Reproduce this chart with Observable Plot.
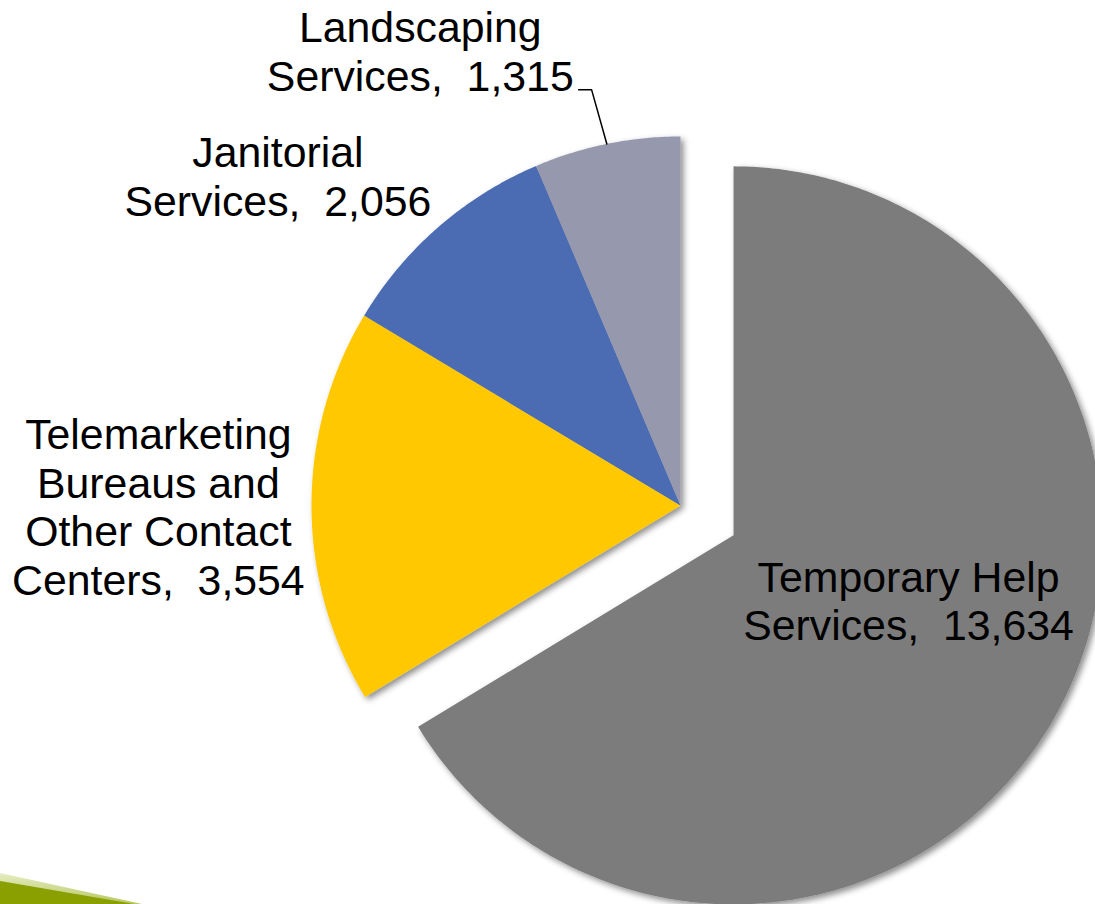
<!DOCTYPE html>
<html>
<head>
<meta charset="utf-8">
<script src="https://cdn.jsdelivr.net/npm/d3@7"></script>
<script src="https://cdn.jsdelivr.net/npm/@observablehq/plot@0.6"></script>
<style>
  html, body { margin: 0; padding: 0; background: #fff; }
  #wrap { position: relative; width: 1095px; height: 904px; overflow: hidden; }
  #deco { position: absolute; left: 0; top: 0; pointer-events: none; }
</style>
</head>
<body>
<div id="wrap">
  <div id="chart"></div>
  <svg id="deco" width="1095" height="904">
    <defs>
      <linearGradient id="gband" x1="0" y1="0" x2="0" y2="1">
        <stop offset="0" stop-color="#e6edc4"/>
        <stop offset="1" stop-color="#b8c860"/>
      </linearGradient>
    </defs>
    <polygon points="0,873 142,904 0,904" fill="url(#gband)"/>
    <polygon points="0,881 134,904 0,904" fill="#8a9f00"/>
  </svg>
</div>
<script>
// ---- data ----
const categoryLines = [
  ["Temporary Help", "Services"],
  ["Telemarketing", "Bureaus and", "Other Contact", "Centers"],
  ["Janitorial", "Services"],
  ["Landscaping", "Services"]
];
const categories = categoryLines.map(l => l.join(" "));
const values = [13634, 3554, 2056, 1315];
const colors = ["#7b7b7b", "#ffc800", "#4b6cb3", "#9698ad"];
const exploded = ["Temporary Help Services"];

// ---- layout (in pie-radius units) ----
const R = 369, CX = 680, CY = 505, W = 1095, H = 904;
const explodeDist = 0.165;
const labelPlacement = {            // polar: angle (deg, clockwise from 12 o'clock), radius
  "Temporary Help Services": {angle: 110.4, r: 0.506},
  "Telemarketing Bureaus and Other Contact Centers": {angle: -90.1, r: 1.415},
  "Janitorial Services": {angle: -50.7, r: 1.41},
  "Landscaping Services": {angle: -29.8, r: 1.419}
};
const leader = {name: "Landscaping Services", start: [-0.276, 1.127], elbow: [-0.241, 1.127]};

const fmt = d3.format(",");
const arcs = d3.pie().sort(null).value(d => d.value)(
  categories.map((name, i) => ({name, value: values[i], lines: categoryLines[i]}))
);

// slice outlines built from pie angles
const polys = [];
const labels = [];
let leaderPts = [];
for (const a of arcs) {
  const name = a.data.name;
  const mid = (a.startAngle + a.endAngle) / 2;
  const off = exploded.includes(name) ? explodeDist : 0;
  const ox = off * Math.sin(mid), oy = off * Math.cos(mid);
  polys.push({name, x: ox, y: oy});
  const n = Math.max(2, Math.ceil((a.endAngle - a.startAngle) / (Math.PI / 360)));
  for (let k = 0; k <= n; k++) {
    const t = a.startAngle + (a.endAngle - a.startAngle) * k / n;
    polys.push({name, x: ox + Math.sin(t), y: oy + Math.cos(t)});
  }
  polys.push({name, x: ox, y: oy});
  const p = labelPlacement[name];
  const la = p.angle * Math.PI / 180;
  const lines = a.data.lines.slice();
  lines[lines.length - 1] += ",\u00a0 " + fmt(a.data.value);
  labels.push({name, x: ox + p.r * Math.sin(la), y: oy + p.r * Math.cos(la), text: lines.join("\n")});
  if (name === leader.name) {
    leaderPts = [
      {x: leader.start[0], y: leader.start[1]},
      {x: leader.elbow[0], y: leader.elbow[1]},
      {x: Math.sin(mid), y: Math.cos(mid)}
    ];
  }
}

const chart = Plot.plot({
  width: W, height: H,
  margin: 0,
  style: {background: "transparent", fontFamily: "'Liberation Sans', Arial, sans-serif", color: "#000"},
  x: {domain: [(0 - CX) / R, (W - CX) / R], axis: null},
  y: {domain: [(CY - H) / R, CY / R], axis: null},
  color: {domain: categories, range: colors},
  marks: [
    Plot.line(polys, {x: "x", y: "y", z: "name", fill: "name", stroke: "none", curve: "linear"}),
    Plot.line(leaderPts, {x: "x", y: "y", stroke: "#000", strokeWidth: 1.5}),
    Plot.text(labels, {x: "x", y: "y", text: "text", fontSize: 42.8, lineHeight: 1.135,
      textAnchor: "middle", lineAnchor: "middle", fill: "#000"})
  ]
});

// soft drop shadow on slices
const ns = "http://www.w3.org/2000/svg";
const defs = document.createElementNS(ns, "defs");
defs.innerHTML = '<filter id="sliceShadow" x="-10%" y="-10%" width="130%" height="130%">' +
  '<feDropShadow dx="3" dy="3" stdDeviation="3" flood-color="#000" flood-opacity="0.45"/></filter>';
chart.insertBefore(defs, chart.firstChild);
const lineGroups = chart.querySelectorAll('g[aria-label="line"]');
if (lineGroups.length) lineGroups[0].setAttribute("filter", "url(#sliceShadow)");

document.getElementById("chart").appendChild(chart);
</script>
</body>
</html>
